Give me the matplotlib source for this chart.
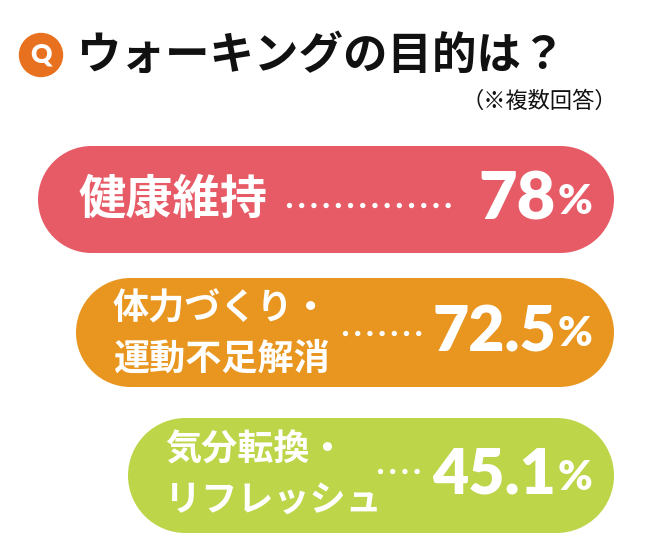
import numpy as np
import matplotlib
matplotlib.use('Agg')
import matplotlib.pyplot as plt
from matplotlib.patches import Rectangle, Circle

plt.rcParams['font.family'] = ['Noto Sans CJK JP', 'DejaVu Sans']

######################## - DATA - #############################
TITLE = 'ウォーキングの目的は？'
NOTE = '（※複数回答）'
LABELS = ['健康維持', '体力づくり・\n運動不足解消', '気分転換・\nリフレッシュ']
VALUES = [78, 72.5, 45.1]
VALUE_TEXT = ['78', '72.5', '45.1']

######################## - LAYOUT - ###########################
W, H = 648, 560
COLORS = ['#E65B66', '#E8961F', '#BDD548']
PILL_LEFT = [38, 76, 128]
PILL_RIGHT = 614
PILL_TOP = [146, 278, 418]
PILL_BOTTOM = [253, 387, 533]
LABEL_X = [78, 113, 165]
LABEL_Y_OFF = [0, 2, 0]
LABEL_SIZE = [34, 26, 26]
DOT_START = [289, 345, 380]
DOT_COUNT = [14, 7, 4]
DOT_STEP = 12.2  # px
DOT_Y_OFF = [5.5, 0, -4.5]
NUM_SIZE = [48, 45, 45]


def stadium(ax, x0, x1, y0, y1, color):
    r = (y1 - y0) / 2
    ax.add_patch(Rectangle((x0 + r, y0), x1 - x0 - 2 * r, y1 - y0, facecolor=color,
                           edgecolor='none'))
    ax.add_patch(Circle((x0 + r, y0 + r), r, facecolor=color, edgecolor='none'))
    ax.add_patch(Circle((x1 - r, y0 + r), r, facecolor=color, edgecolor='none'))


def main():
    fig = plt.figure(figsize=(W / 100, H / 100), dpi=100)
    ax = fig.add_axes([0, 0, 1, 1])
    ax.set_xlim(0, W)
    ax.set_ylim(H, 0)
    ax.axis('off')

    # title
    ax.add_patch(Circle((41, 55), 21.5, color='#E8711F'))
    ax.text(41, 54, 'Q', color='white', fontsize=19, fontweight='heavy',
            family=['Lato', 'DejaVu Sans'], ha='center', va='center')
    ax.text(76, 56, TITLE, fontsize=32, color='#111111', fontweight='bold',
            ha='left', va='center')
    ax.text(617, 101, NOTE, fontsize=16, color='#111111', ha='right', va='center')

    lw = 3.9
    gap_pt = DOT_STEP * 0.72 / lw
    for i, (lab, val, txt) in enumerate(zip(LABELS, VALUES, VALUE_TEXT)):
        top, bot = PILL_TOP[i], PILL_BOTTOM[i]
        cy = (top + bot) / 2
        stadium(ax, PILL_LEFT[i], PILL_RIGHT, top, bot, COLORS[i])

        ax.text(LABEL_X[i], cy + LABEL_Y_OFF[i], lab, color='white', fontsize=LABEL_SIZE[i],
                fontweight='bold', ha='left', va='center', linespacing=1.45)

        x0 = DOT_START[i]
        x1 = x0 + (DOT_COUNT[i] - 1) * DOT_STEP + 0.5
        ax.plot([x0, x1], [cy + DOT_Y_OFF[i]] * 2, color='white', lw=lw,
                linestyle=(0, (0.001, gap_pt)), dash_capstyle='round')

        ax.text(592, cy + 2, '%', color='white', fontsize=30, fontweight='heavy',
                family=['Lato', 'DejaVu Sans'], ha='right', va='center')
        ax.text(556, cy, txt, color='white', fontsize=NUM_SIZE[i], fontweight='heavy',
                family=['Lato', 'DejaVu Sans'], ha='right', va='center')

    fig.savefig('out.png', dpi=100, facecolor='white')


if __name__ == '__main__':
    main()
